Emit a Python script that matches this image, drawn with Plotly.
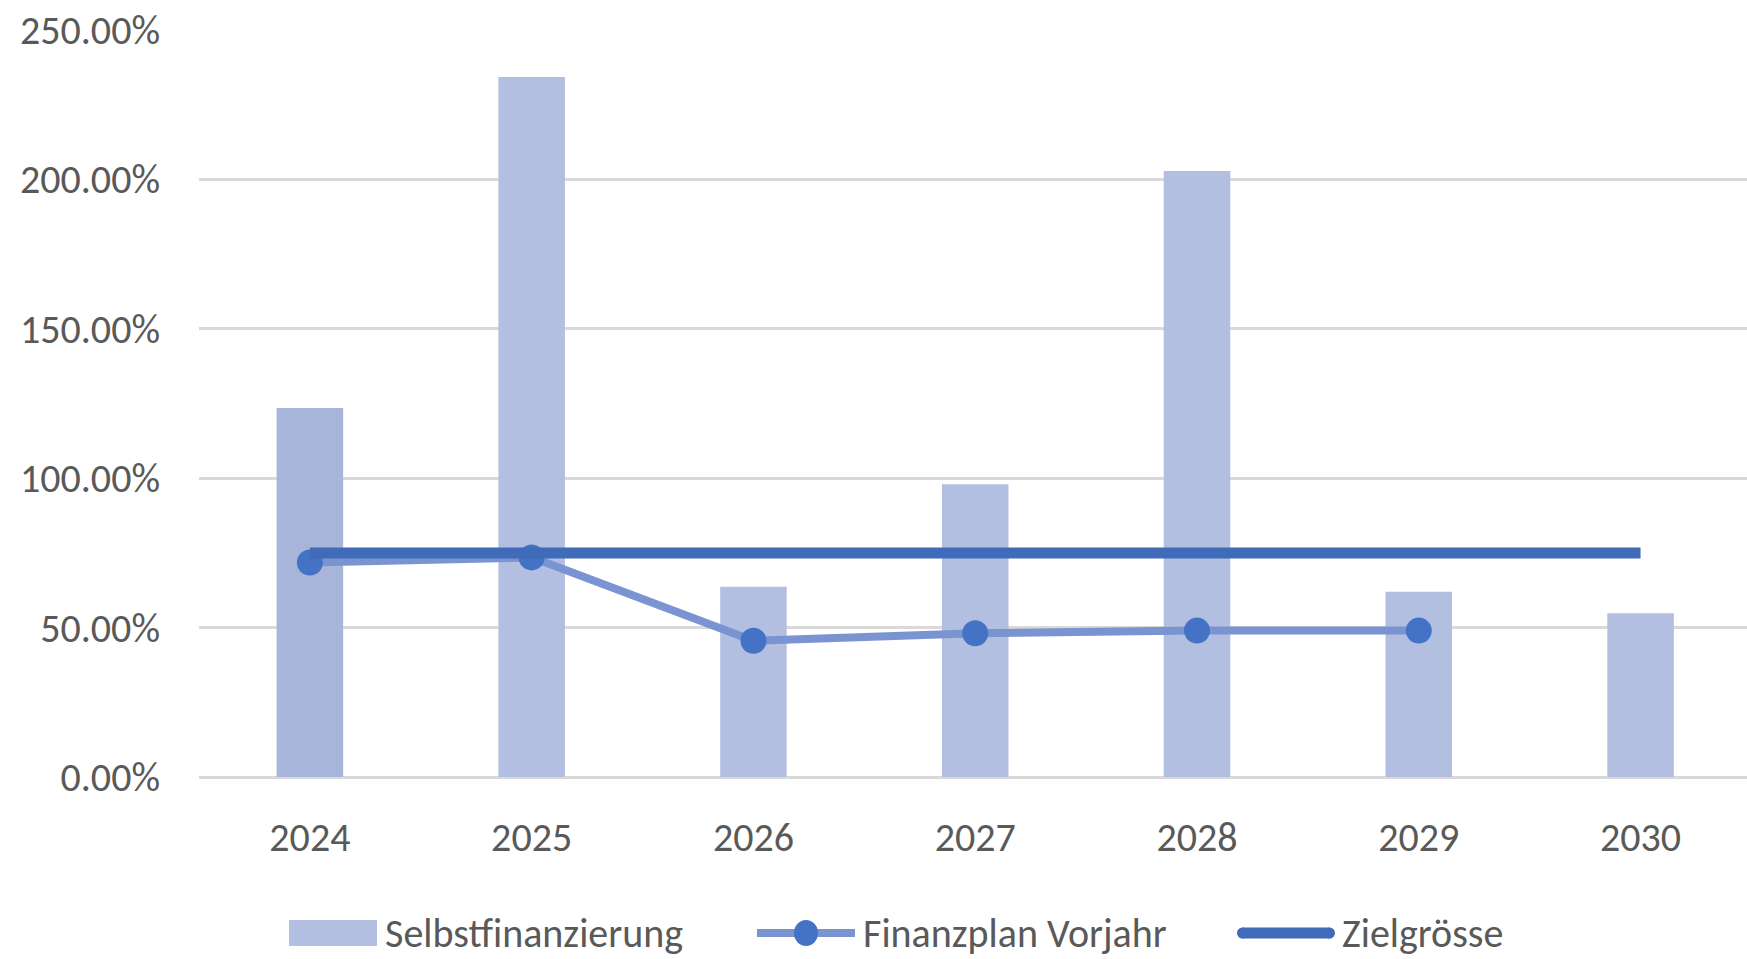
import plotly.graph_objects as go

years = ["2024", "2025", "2026", "2027", "2028", "2029", "2030"]
selbstfinanzierung = [123.5, 234.3, 63.7, 98.0, 202.8, 62.0, 54.8]
finanzplan_vorjahr = [71.8, 73.5, 45.6, 48.1, 49.0, 49.0]
zielgroesse = [75.0, 75.0, 75.0, 75.0, 75.0, 75.0, 75.0]
y_ticks = [0, 50, 100, 150, 200, 250]
y_tick_labels = ["0.00%", "50.00%", "100.00%", "150.00%", "200.00%", "250.00%"]
legend_names = ["Selbstfinanzierung", "Finanzplan Vorjahr", "Zielgrösse"]

BAR_FIRST = "#A8B5DA"
BAR = "#B3BFE0"
LINE_FP = "#7A93D1"
MARK_FP = "#4472C4"
LINE_Z = "#3F6BB9"
bar_colors = [BAR_FIRST] + [BAR] * 6
FONT = "Carlito, Liberation Sans, Arial, sans-serif"
GREY = "#595959"
FS = 40

W, H = 1747, 959
L, R, T, B = 199, 0, 30, 182
PW, PH = W - L - R, H - T - B

fig = go.Figure()
fig.add_trace(go.Bar(
    x=years, y=selbstfinanzierung, name=legend_names[0],
    marker=dict(color=bar_colors, line=dict(width=0)),
))
fig.add_trace(go.Scatter(
    x=years[:len(finanzplan_vorjahr)], y=finanzplan_vorjahr, name=legend_names[1],
    mode="lines+markers",
    line=dict(color=LINE_FP, width=8),
    marker=dict(color=MARK_FP, size=26),
))
fig.add_trace(go.Scatter(
    x=years, y=zielgroesse, name=legend_names[2],
    mode="lines",
    line=dict(color=LINE_Z, width=11),
))

# custom legend (pixel positions -> paper coords)
def px(xp):
    return (xp - L) / PW

def py(yp):
    return (T + PH - yp) / PH

ly = 933
shapes = [
    dict(type="rect", xref="paper", yref="paper", x0=px(289), x1=px(377),
         y0=py(ly + 13), y1=py(ly - 13), fillcolor=BAR, line=dict(width=0)),
    dict(type="line", xref="paper", yref="paper", x0=px(757), x1=px(855),
         y0=py(ly), y1=py(ly), line=dict(color=LINE_FP, width=8)),
    dict(type="circle", xref="paper", yref="paper", x0=px(806 - 12), x1=px(806 + 12),
         y0=py(ly + 13), y1=py(ly - 13), fillcolor=MARK_FP, line=dict(width=0)),
    dict(type="line", xref="paper", yref="paper", x0=px(1242), x1=px(1330),
         y0=py(ly), y1=py(ly), line=dict(color=LINE_Z, width=11)),
    dict(type="circle", xref="paper", yref="paper", x0=px(1237), x1=px(1248),
         y0=py(ly + 5.5), y1=py(ly - 5.5), fillcolor=LINE_Z, line=dict(width=0)),
    dict(type="circle", xref="paper", yref="paper", x0=px(1324), x1=px(1335),
         y0=py(ly + 5.5), y1=py(ly - 5.5), fillcolor=LINE_Z, line=dict(width=0)),
]
annotations = [
    dict(text=name, xref="paper", yref="paper", x=px(xx), y=py(ly), xanchor="left",
         yanchor="middle", showarrow=False, font=dict(family=FONT, size=FS, color=GREY))
    for name, xx in zip(legend_names, [383, 861, 1340])
]

fig.update_layout(
    width=W, height=H,
    margin=dict(l=L, r=R, t=T, b=B, autoexpand=False),
    plot_bgcolor="white", paper_bgcolor="white",
    bargap=0.70,
    font=dict(family=FONT, size=FS, color=GREY),
    showlegend=False,
    shapes=shapes,
    annotations=annotations,
)
fig.update_xaxes(
    type="category", range=[-0.5, 6.48], automargin=False,
    showgrid=False, showline=False, zeroline=False,
    ticks="", ticklabelstandoff=33,
    tickfont=dict(family=FONT, size=FS, color=GREY),
)
fig.update_yaxes(
    range=[0, 250], tickvals=y_ticks, ticktext=y_tick_labels, automargin=False,
    showgrid=True, gridcolor="#D9D9D9", gridwidth=3,
    zeroline=True, zerolinecolor="#D9D9D9", zerolinewidth=3,
    showline=False, ticks="", ticklabelstandoff=38,
    tickfont=dict(family=FONT, size=FS, color=GREY),
)

fig.write_html(
    "out.html",
    config={"displayModeBar": False},
    post_script="document.body.style.margin='0px';document.body.style.overflow='hidden';",
)
